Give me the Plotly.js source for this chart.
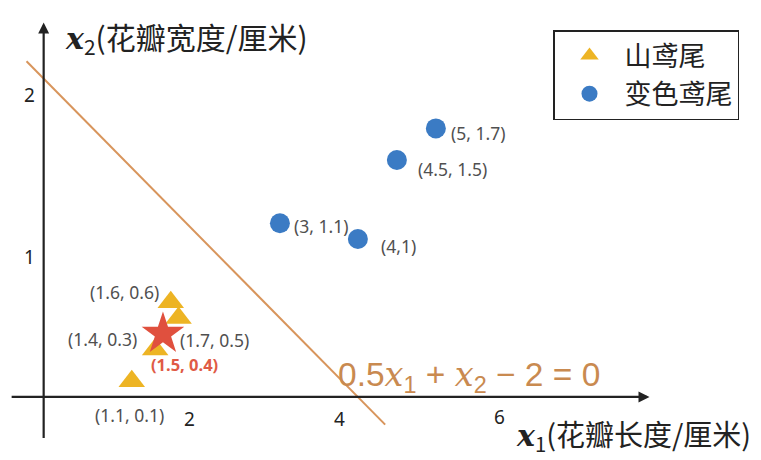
<!DOCTYPE html>
<html><head><meta charset="utf-8">
<script src="https://cdn.plot.ly/plotly-3.0.1.min.js"></script>
<style>html,body{margin:0;padding:0;background:#fff}</style>
</head><body><div id="chart" style="width:761px;height:460px"></div>
<script>
// Data
const setosaName = '山鸢尾';
const setosaX = [1.1, 1.4, 1.6, 1.7];
const setosaY = [0.1, 0.3, 0.6, 0.5];
const setosaLabels = ['(1.1, 0.1)', '(1.4, 0.3)', '(1.6, 0.6)', '(1.7, 0.5)'];

const versiName = '变色鸢尾';
const versiX = [3, 4, 4.5, 5];
const versiY = [1.1, 1, 1.5, 1.7];
const versiLabels = ['(3, 1.1)', '(4,1)', '(4.5, 1.5)', '(5, 1.7)'];

const newX = [1.5];
const newY = [0.4];
const newLabels = ['(1.5, 0.4)'];

// decision boundary 0.5*x1 + x2 - 2 = 0
const boundaryW1 = 0.5, boundaryW2 = 1, boundaryB = -2;
const boundaryXs = [-0.25, 4.35];

const xTicks = [2, 4, 6];
const yTicks = [1, 2];

// label placement (layout, in pixels)
const setosaLabelPlace = [
  {xanchor: 'center', xshift: -2, yshift: -34},
  {xanchor: 'right', xshift: -16, yshift: 11},
  {xanchor: 'right', xshift: -10, yshift: 10},
  {xanchor: 'left', xshift: -1, yshift: -22}
];
const versiLabelPlace = [
  {xanchor: 'left', xshift: 12, yshift: -3},
  {xanchor: 'left', xshift: 21, yshift: -7},
  {xanchor: 'left', xshift: 19, yshift: -9},
  {xanchor: 'left', xshift: 13, yshift: -5}
];
const newLabelPlace = [{xanchor: 'left', xshift: -14, yshift: -31}];

const boundaryYs = boundaryXs.map(x => -(boundaryW1 * x + boundaryB) / boundaryW2);

const labelFont = {family: 'Noto Sans, Open Sans, sans-serif', size: 17.5, color: '#505050'};

const traces = [
  {x: boundaryXs, y: boundaryYs, mode: 'lines', line: {color: '#D8955C', width: 2}, showlegend: false, hoverinfo: 'skip'},
  {x: setosaX, y: setosaY, mode: 'markers', name: setosaName,
   marker: {symbol: 'triangle-up', size: 23, color: '#EDB424'}},
  {x: versiX, y: versiY, mode: 'markers', name: versiName,
   marker: {symbol: 'circle', size: 20, color: '#3B7BC4'}},
  {x: newX, y: newY, mode: 'markers', showlegend: false,
   marker: {symbol: 'star', size: 32, color: '#E0503E'}}
];

const annotations = [];
function addLabels(xs, ys, labels, place, font, bold) {
  xs.forEach((x, i) => annotations.push({x: x, y: ys[i], xref: 'x', yref: 'y', showarrow: false,
    text: bold ? '<b>' + labels[i] + '</b>' : labels[i], xanchor: place[i].xanchor, yanchor: 'middle',
    xshift: place[i].xshift, yshift: place[i].yshift, font: font}));
}
addLabels(setosaX, setosaY, setosaLabels, setosaLabelPlace, labelFont, false);
addLabels(versiX, versiY, versiLabels, versiLabelPlace, labelFont, false);
addLabels(newX, newY, newLabels, newLabelPlace, {family: 'Noto Sans, sans-serif', size: 16.5, color: '#E05A45'}, true);

// axes arrows
annotations.push({x: 7.74, y: 0, ax: -0.46, ay: 0, axref: 'x', ayref: 'y', xref: 'x', yref: 'y', text: '',
  showarrow: true, arrowhead: 2, arrowsize: 1, arrowwidth: 2.2, arrowcolor: '#222'});
annotations.push({x: -0.03, y: 2.37, ax: -0.03, ay: -0.27, axref: 'x', ayref: 'y', xref: 'x', yref: 'y', text: '',
  showarrow: true, arrowhead: 2, arrowsize: 1, arrowwidth: 2.2, arrowcolor: '#222'});
// tick labels
const tickFont = {family: 'Noto Sans, sans-serif', size: 19, color: '#222'};
xTicks.forEach(v => annotations.push({x: v, y: 0, xref: 'x', yref: 'y', text: String(v), showarrow: false,
  xshift: v === 2 ? -12 : (v === 4 ? -18 : -14), yshift: v === 6 ? -20 : -22, font: tickFont}));
yTicks.forEach(v => annotations.push({x: 0, y: v, xref: 'x', yref: 'y', text: String(v), showarrow: false,
  xshift: -17, yshift: v === 1 ? -18 : -14, font: tickFont}));
// axis titles
annotations.push({xref: 'paper', yref: 'paper', x: 63/761, y: 1 - 38/460, xanchor: 'left', yanchor: 'middle', showarrow: false,
  text: '<span style="font-family:DejaVu Serif;font-size:30px"><b><i>x</i></b></span><sub>2</sub>(花瓣宽度/厘米)',
  font: {family: 'Noto Sans CJK SC, sans-serif', size: 30, color: '#222'}});
annotations.push({xref: 'paper', yref: 'paper', x: 514/761, y: 1 - 435/460, xanchor: 'left', yanchor: 'middle', showarrow: false,
  text: '<span style="font-family:DejaVu Serif;font-size:30px"><b><i>x</i></b></span><sub>1</sub>(花瓣长度/厘米)',
  font: {family: 'Noto Sans CJK SC, sans-serif', size: 29, color: '#222'}});
// equation
annotations.push({xref: 'paper', yref: 'paper', x: 336/761, y: 1 - 376/460, xanchor: 'left', yanchor: 'middle', showarrow: false,
  text: '0.5<span style="font-family:DejaVu Serif"><i>x</i></span><sub>1</sub> + <span style="font-family:DejaVu Serif"><i>x</i></span><sub>2</sub> − 2 = 0',
  font: {family: 'Liberation Sans, sans-serif', size: 33.5, color: '#C98A50'}});

const layout = {
  width: 761, height: 460,
  margin: {l: 0, r: 0, t: 0, b: 0},
  paper_bgcolor: '#fff', plot_bgcolor: '#fff',
  xaxis: {range: [-0.59, 9.17], visible: false, fixedrange: true},
  yaxis: {range: [-0.399, 2.513], visible: false, fixedrange: true},
  showlegend: true,
  legend: {x: 553/761, y: 1 - 30/460, xanchor: 'left', yanchor: 'top', bordercolor: '#222', borderwidth: 1.5,
    bgcolor: '#fff', font: {family: 'Noto Sans CJK SC, sans-serif', size: 27, color: '#222'}, itemwidth: 60,
    tracegroupgap: 0},
  annotations: annotations
};

Plotly.newPlot('chart', traces, layout, {displayModeBar: false, staticPlot: true});
</script></body></html>
